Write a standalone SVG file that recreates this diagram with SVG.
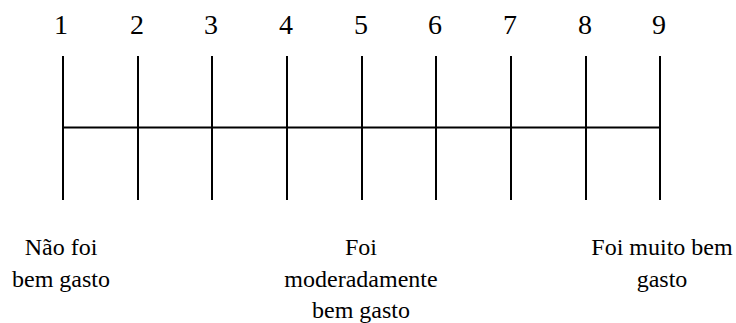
<svg xmlns="http://www.w3.org/2000/svg" width="736" height="323" viewBox="0 0 736 323">
<style>
.num{font-size:28px;fill:#000;text-anchor:middle;font-family:'Liberation Serif',serif !important}
.lbl{font-size:24px;fill:#000;text-anchor:middle;font-family:'Liberation Serif',serif !important}
.ln{stroke:#000;stroke-width:2;fill:none}
</style>
<rect width="736" height="323" fill="#fff"/>
<g id="connectors">
<line class="ln" x1="63" y1="127.5" x2="660" y2="127.5"/>
</g>
<g id="tick1"><line class="ln" x1="63" y1="56" x2="63" y2="200"/><text class="num" style="font-family:'Liberation Serif',serif" x="61" y="34">1</text></g>
<g id="tick2"><line class="ln" x1="138" y1="56" x2="138" y2="200"/><text class="num" style="font-family:'Liberation Serif',serif" x="137" y="34">2</text></g>
<g id="tick3"><line class="ln" x1="212" y1="56" x2="212" y2="200"/><text class="num" style="font-family:'Liberation Serif',serif" x="211" y="34">3</text></g>
<g id="tick4"><line class="ln" x1="287" y1="56" x2="287" y2="200"/><text class="num" style="font-family:'Liberation Serif',serif" x="286" y="34">4</text></g>
<g id="tick5"><line class="ln" x1="362" y1="56" x2="362" y2="200"/><text class="num" style="font-family:'Liberation Serif',serif" x="361" y="34">5</text></g>
<g id="tick6"><line class="ln" x1="436" y1="56" x2="436" y2="200"/><text class="num" style="font-family:'Liberation Serif',serif" x="435" y="34">6</text></g>
<g id="tick7"><line class="ln" x1="511" y1="56" x2="511" y2="200"/><text class="num" style="font-family:'Liberation Serif',serif" x="510" y="34">7</text></g>
<g id="tick8"><line class="ln" x1="586" y1="56" x2="586" y2="200"/><text class="num" style="font-family:'Liberation Serif',serif" x="585" y="34">8</text></g>
<g id="tick9"><line class="ln" x1="660" y1="56" x2="660" y2="200"/><text class="num" style="font-family:'Liberation Serif',serif" x="659" y="34">9</text></g>
<g id="label-low"><text class="lbl" style="font-family:'Liberation Serif',serif" x="61" y="255">Não foi</text><text class="lbl" style="font-family:'Liberation Serif',serif" x="61" y="287">bem gasto</text></g>
<g id="label-mid"><text class="lbl" style="font-family:'Liberation Serif',serif" x="361" y="255">Foi</text><text class="lbl" style="font-family:'Liberation Serif',serif" x="361" y="287">moderadamente</text><text class="lbl" style="font-family:'Liberation Serif',serif" x="361" y="318">bem gasto</text></g>
<g id="label-high"><text class="lbl" style="font-family:'Liberation Serif',serif" x="662" y="255">Foi muito bem</text><text class="lbl" style="font-family:'Liberation Serif',serif" x="662" y="287">gasto</text></g>
</svg>
